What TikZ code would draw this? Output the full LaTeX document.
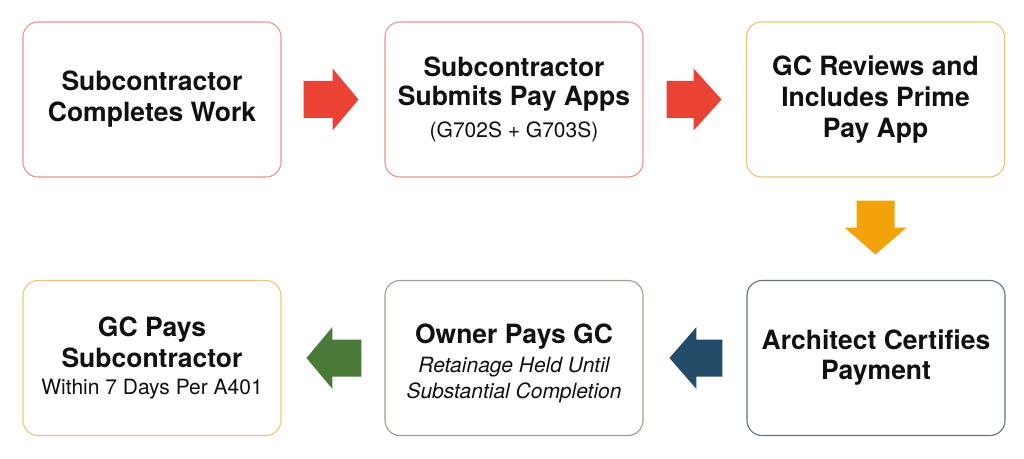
\documentclass[tikz,border=0pt]{standalone}
\usepackage{fontspec}
\setmainfont{TeX Gyre Heros}
\usetikzlibrary{calc}
\definecolor{bdRed}{HTML}{E4978F}
\definecolor{arRed}{HTML}{EA4335}
\definecolor{bdGold}{HTML}{EBC57A}
\definecolor{arOrange}{HTML}{F2A20A}
\definecolor{bdSlate}{HTML}{5E7384}
\definecolor{arBlue}{HTML}{244C68}
\definecolor{bdGreen}{HTML}{94A58A}
\definecolor{arGreen}{HTML}{4B7A38}
\definecolor{txt}{HTML}{111111}
\newcommand\subline[1]{{\mdseries\fontsize{21}{26}\selectfont #1}}
\newcommand\subital[1]{{\mdseries\itshape\fontsize{21}{26}\selectfont #1}}
\begin{document}
\begin{tikzpicture}[x=1pt,y=1pt,
  box/.style={draw, rounded corners=15pt, line width=1.1pt, minimum width=258pt,
    minimum height=155pt, align=center, inner sep=0pt, text=txt,
    font=\bfseries\fontsize{26.5}{31}\selectfont}]
\useasboundingbox[fill=white] (0,0) rectangle (1024,458);

\node[box, draw=bdRed] (b1) at (152,358.5) {Subcontractor\\Completes Work};
\node[box, draw=bdRed] (b2) at (514,358.5) {Subcontractor\\[-2pt]Submits Pay Apps\\[1pt]\subline{(G702S + G703S)}};
\node[box, draw=bdGold] (b3) at (875.5,358.5) {GC Reviews and\\Includes Prime\\Pay App};
\node[box, draw=bdSlate] (b6) at (876,100) {Architect Certifies\\[-1pt]Payment};
\node[box, draw=bdGreen] (b5) at (514,100) {\rule{0pt}{31pt}Owner Pays GC\\[-2pt]\subital{Retainage Held Until}\\[-5pt]\subital{Substantial Completion}};
\node[box, draw=bdGold] (b4) at (152,100) {GC Pays\\Subcontractor\\[-4pt]\subline{Within 7 Days Per A401}};

% right arrows
\fill[arRed] ($(b1.east)+(22,18.5)$) -- ++(29,0) -- ++(0,12.5) -- ++(26,-31)
  -- ++(-26,-31) -- ++(0,12.5) -- ++(-29,0) -- cycle;
\fill[arRed] ($(b2.east)+(23,18.5)$) -- ++(27,0) -- ++(0,12.5) -- ++(28,-31)
  -- ++(-28,-31) -- ++(0,12.5) -- ++(-27,0) -- cycle;
% down arrow
\fill[arOrange] ($(b3.south)+(-19,-23)$) -- ++(0,-27) -- ++(-12,0) -- ++(31,-27)
  -- ++(31,27) -- ++(-12,0) -- ++(0,27) -- cycle;
% left arrows
\fill[arBlue] ($(b6.west)+(-24,18.5)$) -- ++(-26,0) -- ++(0,12.5) -- ++(-27,-31)
  -- ++(27,-31) -- ++(0,12.5) -- ++(26,0) -- cycle;
\fill[arGreen] ($(b5.west)+(-23,18.5)$) -- ++(-29,0) -- ++(0,12.5) -- ++(-26,-31)
  -- ++(26,-31) -- ++(0,12.5) -- ++(29,0) -- cycle;
\end{tikzpicture}
\end{document}
